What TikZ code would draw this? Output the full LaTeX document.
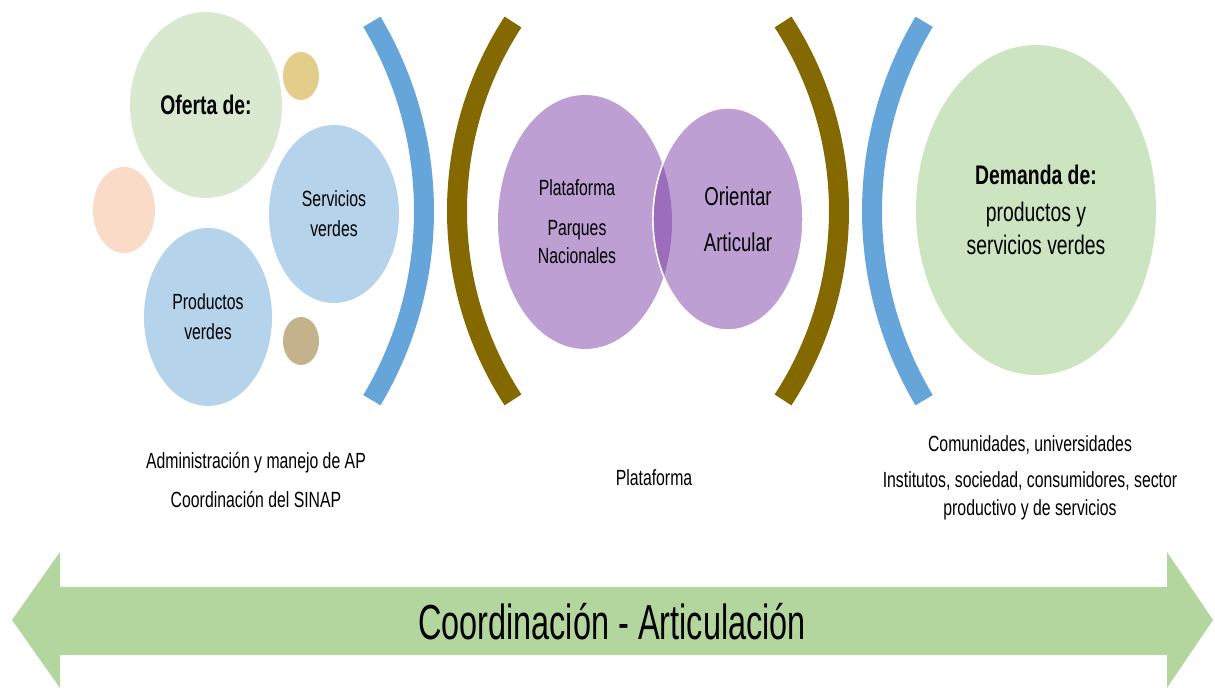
\documentclass[tikz,border=0pt]{standalone}
\usepackage{fontspec}
\newfontfamily\narrowsf[FakeStretch=0.72]{Liberation Sans}
\newfontfamily\bannersf[FakeStretch=0.66]{Liberation Sans}
\usetikzlibrary{shapes.geometric}

\definecolor{ofertagreen}{HTML}{D8E9CF}
\definecolor{demandagreen}{HTML}{CDE4C0}
\definecolor{arrowgreen}{HTML}{B3D69E}
\definecolor{lightblue}{HTML}{B5D3EB}
\definecolor{bracketblue}{HTML}{66A5DA}
\definecolor{bracketbrown}{HTML}{846800}
\definecolor{lilac}{HTML}{BE9FD4}
\definecolor{lilacdark}{HTML}{9C6DBB}
\definecolor{dotyellow}{HTML}{E3CD8B}
\definecolor{dottan}{HTML}{C4B38A}
\definecolor{peach}{HTML}{FADBC8}

\begin{document}
\begin{tikzpicture}[
  x=0.02cm, y=0.02cm,
  bubble/.style={ellipse, inner sep=0pt, align=center, font=\narrowsf\fontsize{12.5}{17}\selectfont},
  dot/.style={ellipse, inner sep=0pt},
  bracket/.style={line width=0.4cm},
  caption/.style={align=center, font=\narrowsf\fontsize{12.5}{22.7}\selectfont},
  ]
  \useasboundingbox (0,0) rectangle (1215,688);

  % Oferta side
  \node[bubble, fill=ofertagreen, minimum width=3.04cm, minimum height=3.72cm] (oferta) at (206,583)
    {\bfseries\fontsize{15.3}{18}\selectfont Oferta de:};
  \node[dot, fill=dotyellow, minimum width=0.72cm, minimum height=0.96cm] (dotyel) at (301,612) {};
  \node[dot, fill=peach, minimum width=1.24cm, minimum height=1.72cm] (dotpeach) at (124,478) {};
  \node[bubble, fill=lightblue, minimum width=2.6cm, minimum height=3.56cm] (servicios) at (334,474) {Servicios\\verdes};
  \node[bubble, fill=lightblue, minimum width=2.56cm, minimum height=3.56cm] (productos) at (208,371) {Productos\\verdes};
  \node[dot, fill=dottan, minimum width=0.72cm, minimum height=0.96cm] (dottan) at (301,347) {};

  % Brackets
  \draw[bracket, bracketblue] (54.5,477) ++(-30.8:369.5) arc[start angle=-30.8, end angle=30.8, radius=369.5];
  \draw[bracket, bracketbrown] (803.9,477) ++(147:346.9) arc[start angle=147, end angle=213, radius=346.9];
  \draw[bracket, bracketbrown] (492.1,477) ++(-33:346.9) arc[start angle=-33, end angle=33, radius=346.9];
  \draw[bracket, bracketblue] (1241.5,477) ++(149.2:369.5) arc[start angle=149.2, end angle=210.8, radius=369.5];

  % Plataforma (two lilac circles)
  \node[dot, fill=lilac, minimum width=3.48cm, minimum height=5.08cm] (plataforma) at (585,466) {};
  \node[dot, fill=lilac, draw=white, line width=0.8pt, minimum width=3cm, minimum height=4.44cm] (orientar) at (728,469) {};
  \begin{scope}
    \clip (585,466) ellipse [x radius=87, y radius=127];
    \fill[lilacdark, draw=white, line width=0.8pt] (728,469) ellipse [x radius=75, y radius=111];
  \end{scope}
  \node[bubble, font=\narrowsf\fontsize{12.5}{15.9}\selectfont] (plataformatext) at ([xshift=-0.16cm]plataforma.center)
    {Plataforma\\[6.8pt]Parques\\Nacionales};
  \node[bubble, font=\narrowsf\fontsize{14.7}{26}\selectfont] (orientartext) at ([xshift=0.2cm]orientar.center)
    {Orientar\\Articular};

  % Demanda side
  \node[bubble, fill=demandagreen, minimum width=4.8cm, minimum height=6.6cm, font=\narrowsf\fontsize{15.3}{18.7}\selectfont] (demanda) at (1036,478)
    {\textbf{Demanda de:}\\[2.3pt]productos y\\servicios verdes};

  % Captions
  \node[caption] (gestion) at (256,208) {Administración y manejo de AP\\Coordinación del SINAP};
  \node[caption] (enlace) at (654,210) {Plataforma};
  \node[caption, font=\narrowsf\fontsize{12.5}{15.9}\selectfont] (actores) at (1030,210)
    {Comunidades, universidades\\[4.5pt]Institutos, sociedad, consumidores, sector\\productivo y de servicios};

  % Double arrow
  \fill[arrowgreen] (12,68) -- (60,136) -- (60,101) -- (1167,101) -- (1167,136) -- (1213,68)
    -- (1167,0) -- (1167,33) -- (60,33) -- (60,0) -- cycle;
  \node[font=\bannersf\fontsize{28}{32}\selectfont] (banner) at (612,66) {Coordinación - Articulación};

\end{tikzpicture}
\end{document}
